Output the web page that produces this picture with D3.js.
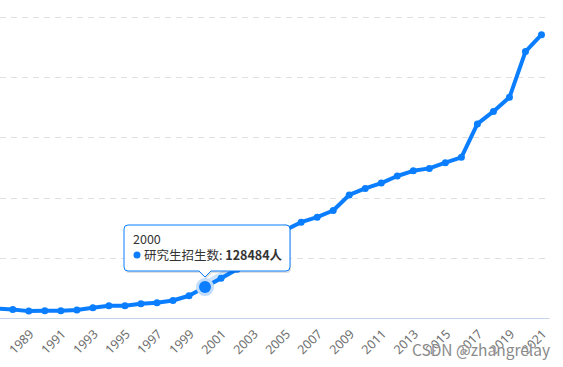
<!DOCTYPE html>
<html>
<head>
<meta charset="utf-8">
<script src="https://cdn.jsdelivr.net/npm/d3@7"></script>
<style>
  body { margin: 0; background: #fff; }
  svg { display: block; font-family: "Microsoft YaHei", "Noto Sans CJK SC", "Noto Sans", sans-serif; }
</style>
</head>
<body>
<div id="chart"></div>
<script>
// graduate enrollment per year (people)
var years = [1986, 1987, 1988, 1989, 1990, 1991, 1992, 1993, 1994, 1995, 1996, 1997, 1998, 1999, 2000,
  2001, 2002, 2003, 2004, 2005, 2006, 2007, 2008, 2009, 2010, 2011, 2012, 2013, 2014, 2015,
  2016, 2017, 2018, 2019, 2020, 2021];
var enrolled = [41310, 39017, 35645, 28569, 29649, 29679, 33439, 42145, 50864, 51053, 59398, 63749, 72508, 92225, 128484,
  165197, 202611, 268925, 326286, 364831, 397925, 418612, 446422, 510953, 538177, 560168, 589673, 611381, 621323, 645055,
  667064, 806103, 857966, 916503, 1106551, 1176526];
var yTicks = [0, 250000, 500000, 750000, 1000000, 1250000];
var seriesName = "研究生招生数";
var hoverYear = 2000;

var width = 563, height = 367;
var blue = "#0a7eff";

var svg = d3.select("#chart").append("svg")
  .attr("width", width)
  .attr("height", height);

var data = years.map(function (y, i) { return {year: y, value: enrolled[i]}; });

// band scale, points at band centres; left part of the plot is cut off
var x = d3.scaleBand()
  .domain(years)
  .range([-27.3, 549.5]);
var cx = function (d) { return x(d) + x.bandwidth() / 2; };

var y = d3.scaleLinear()
  .domain([0, 1250000])
  .range([318, 17]);

// dashed grid
svg.append("g").selectAll("line")
  .data(yTicks.slice(1))
  .enter().append("line")
  .attr("x1", 0).attr("x2", 549.5)
  .attr("y1", function (d) { return Math.round(y(d)) + 0.5; })
  .attr("y2", function (d) { return Math.round(y(d)) + 0.5; })
  .attr("stroke", "#e0e0e0")
  .attr("stroke-dasharray", "6,5");

// x axis (labels every other year; 1987 falls outside the picture)
var xAxis = svg.append("g")
  .attr("transform", "translate(0,318.5)")
  .call(d3.axisBottom(d3.scalePoint().domain(years).range([cx(years[0]), cx(years[years.length - 1])]))
    .tickValues(years.filter(function (d) { return d % 2 === 1 && d >= 1989; }))
    .tickSize(0).tickPadding(6));
xAxis.select(".domain").attr("stroke", "#c6d4ea").attr("d", "M0,0H549.5");
xAxis.selectAll("text")
  .attr("fill", "#6e6e6e")
  .style("font-size", "12.5px")
  .style("font-family", "Microsoft YaHei, Noto Sans, sans-serif")
  .attr("text-anchor", "end")
  .attr("dy", "0.35em")
  .attr("transform", "translate(-2,9) rotate(-45)");

// line
var line = d3.line()
  .x(function (d) { return cx(d.year); })
  .y(function (d) { return y(d.value); });

// faded emphasis band right after the hovered point
svg.append("path")
  .datum(data.filter(function (d) { return d.year >= 2000 && d.year <= 2005; }))
  .attr("d", line)
  .attr("transform", "translate(0,-2)")
  .attr("fill", "none")
  .attr("stroke", "#cfe4fd")
  .attr("stroke-width", 8)
  .attr("stroke-linecap", "round");

svg.append("path")
  .datum(data)
  .attr("d", line)
  .attr("fill", "none")
  .attr("stroke", blue)
  .attr("stroke-width", 4)
  .attr("stroke-linejoin", "round");

svg.append("g").selectAll("circle")
  .data(data)
  .enter().append("circle")
  .attr("cx", function (d) { return cx(d.year); })
  .attr("cy", function (d) { return y(d.value); })
  .attr("r", 3.5)
  .attr("fill", blue);

// hovered point
var hp = data.filter(function (d) { return d.year === hoverYear; })[0];
svg.append("circle")
  .attr("cx", cx(hp.year)).attr("cy", y(hp.value))
  .attr("r", 9).attr("fill", "#c2ddfc");
svg.append("circle")
  .attr("cx", cx(hp.year)).attr("cy", y(hp.value))
  .attr("r", 6).attr("fill", blue);

// tooltip
var tx = 124, ty = 225, tw = 166, th = 46, ax = cx(hp.year);
var tip = svg.append("g");
var tipPath = "M" + (tx + 4) + "," + ty + "H" + (tx + tw - 4) + "Q" + (tx + tw) + "," + ty + " " + (tx + tw) + "," + (ty + 4) +
  "V" + (ty + th - 4) + "Q" + (tx + tw) + "," + (ty + th) + " " + (tx + tw - 4) + "," + (ty + th) +
  "H" + (ax + 6) + "L" + ax + "," + (ty + th + 6) + "L" + (ax - 6) + "," + (ty + th) +
  "H" + (tx + 4) + "Q" + tx + "," + (ty + th) + " " + tx + "," + (ty + th - 4) +
  "V" + (ty + 4) + "Q" + tx + "," + ty + " " + (tx + 4) + "," + ty + "Z";
tip.append("path")
  .attr("d", tipPath)
  .attr("transform", "translate(1,2)")
  .attr("fill", "rgba(0,0,0,0.12)");
tip.append("path")
  .attr("d", tipPath)
  .attr("fill", "#fff")
  .attr("stroke", blue)
  .attr("stroke-width", 1);
tip.append("text")
  .attr("x", tx + 9).attr("y", ty + 19)
  .attr("fill", "#333")
  .style("font-size", "12.5px")
  .text(hp.year);
tip.append("circle")
  .attr("cx", tx + 13).attr("cy", ty + 30)
  .attr("r", 3.5).attr("fill", blue);
var t2 = tip.append("text")
  .attr("x", tx + 20).attr("y", ty + 35)
  .attr("fill", "#333")
  .style("font-size", "12.5px");
t2.append("tspan").text(seriesName + ": ");
t2.append("tspan").attr("font-weight", "bold").text(hp.value + "人");

// watermark
svg.append("text")
  .attr("x", 412).attr("y", 356)
  .attr("fill", "#8a8a8a")
  .attr("stroke", "#fff")
  .attr("stroke-width", 0.6)
  .attr("paint-order", "stroke")
  .style("font-size", "15.5px")
  .text("CSDN @zhangrelay");
</script>
</body>
</html>
